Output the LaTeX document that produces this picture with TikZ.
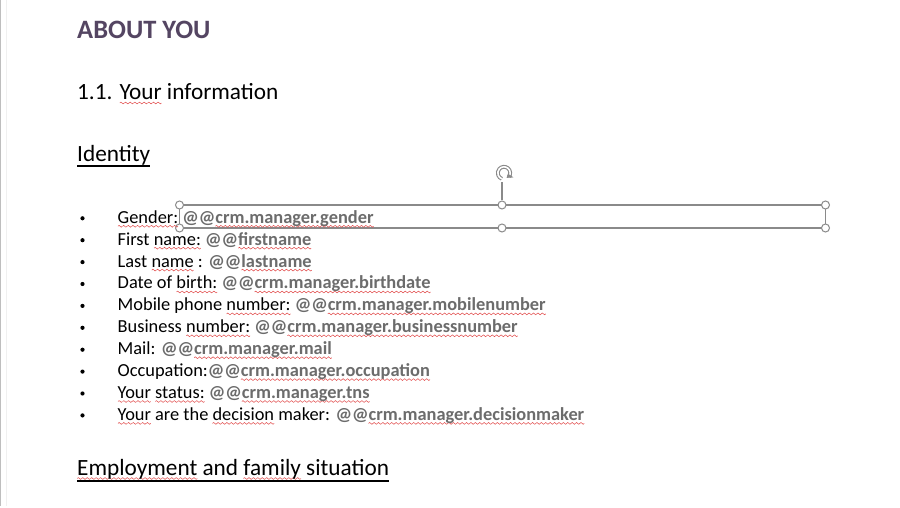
\documentclass[tikz,border=0pt]{standalone}
\usepackage{fontspec}
\setmainfont{Carlito}
\usetikzlibrary{arrows.meta}
\definecolor{headc}{RGB}{84,69,98}
\definecolor{fieldc}{RGB}{108,108,108}
\definecolor{sqred}{RGB}{225,70,70}
\definecolor{selc}{RGB}{138,138,138}
\definecolor{pageedge}{RGB}{190,190,190}
\newsavebox\wavebox
\newbox\sqbox
\newcommand\sq[1]{\leavevmode\setbox\sqbox\hbox{#1}\rlap{\lower4pt\hbox to \wd\sqbox{\xleaders\copy\wavebox\hfil}}\box\sqbox}
\newcommand\fld[1]{{\bfseries\color{fieldc}#1}}
\begin{document}
\sbox\wavebox{\begin{pgfpicture}%
  \pgfsetcolor{sqred}\pgfsetlinewidth{0.5pt}%
  \pgfpathmoveto{\pgfpoint{0pt}{0pt}}%
  \pgfpathlineto{\pgfpoint{1.1pt}{0.9pt}}%
  \pgfpathlineto{\pgfpoint{3.3pt}{-0.9pt}}%
  \pgfpathlineto{\pgfpoint{4.4pt}{0pt}}%
  \pgfusepath{stroke}%
  \pgfresetboundingbox
  \pgfpathrectangle{\pgfpoint{0pt}{-1pt}}{\pgfpoint{4.4pt}{2pt}}%
  \pgfusepath{use as bounding box}%
\end{pgfpicture}}%
\begin{tikzpicture}[x=1bp,y=-1bp,
  body/.style={anchor=base west, inner sep=0pt, font=\fontsize{18.45}{22}\selectfont},
  head/.style={anchor=base west, inner sep=0pt, font=\fontsize{23.35}{28}\selectfont},
  title/.style={anchor=base west, inner sep=0pt, text=headc, font=\fontsize{26.6}{30}\selectfont\bfseries},
  bulletdot/.style={circle, fill=black, inner sep=0pt, minimum size=4.2bp},
  handle/.style={circle, draw=selc, fill=white, line width=1bp, inner sep=0pt, minimum size=8bp},
  selline/.style={draw=selc, line width=1.1bp},
  uline/.style={line width=1.6bp}]
\useasboundingbox (0,0) rectangle (900,508);
\fill[white] (0,0) rectangle (900,508);
\draw[pageedge, line width=1.5bp] (0.75,0) -- (0.75,506);
\draw[black!6, line width=0.8bp] (6,0) -- (6,506);

\node[title] (t) at (77,38.5) {ABOUT YOU};
\node[head] (s) at (77,100) {1.1. \sq{Your} information};
\node[head] (id) at (77,161.5) {Identity};
\draw[uline] ([yshift=-4.5bp]id.base west) -- ([yshift=-4.5bp]id.base east);

% selection frame
\coordinate (fnw) at (179.5,205);
\coordinate (fse) at (825.5,228);
\draw[selline] (fnw) rectangle (fse);
\coordinate (rot) at (504,173);
\node[handle] (hnw) at (179.5,205) {};
\node[handle] (hsw) at (179.5,228) {};
\node[handle] (hn)  at (502,205) {};
\node[handle] (hs)  at (502,228) {};
\node[handle] (hne) at (825.5,205) {};
\node[handle] (hse) at (825.5,228) {};
\draw[selline] (hn) -- (502,182);
\draw[selc, line width=1.1bp, double=white, double distance=1.6bp]
  ([shift={(-40:6.2bp)}]rot) arc[start angle=-40, end angle=250, radius=6.2bp];
\fill[selc] ([shift={(-10:4bp)}]rot) -- ([shift={(-25:10.5bp)}]rot) -- ([shift={(-62:5.5bp)}]rot) -- cycle;

% bullet list
\foreach \k in {0,...,9}{
  \node[bulletdot] (b\k) at (82.5,{223.3+21.9*\k-5}) {};
}
\node[body] (l0) at (117.5,223.3) {\sq{Gender:} \fld{@@\sq{crm.manager.gender}}};
\node[body] (l1) at (117.5,245.2) {First \sq{name:} \fld{@@\sq{firstname}}};
\node[body] (l2) at (117.5,267.1) {Last \sq{name} : \fld{@@\sq{lastname}}};
\node[body] (l3) at (117.5,289.0) {Date of \sq{birth:} \fld{@@\sq{crm.manager.birthdate}}};
\node[body] (l4) at (117.5,310.9) {Mobile phone \sq{number:} \fld{@@\sq{crm.manager.mobilenumber}}};
\node[body] (l5) at (117.5,332.8) {Business \sq{number:} \fld{@@\sq{crm.manager.businessnumber}}};
\node[body] (l6) at (117.5,354.7) {Mail: \fld{@@\sq{crm.manager.mail}}};
\node[body] (l7) at (117.5,376.6) {Occupation:\fld{@@\sq{crm.manager.occupation}}};
\node[body] (l8) at (117.5,398.5) {\sq{Your} \sq{status:} \fld{@@\sq{crm.manager.tns}}};
\node[body] (l9) at (117.5,420.4) {\sq{Your} are the \sq{decision} maker: \fld{@@\sq{crm.manager.decisionmaker}}};

\node[head] (emp) at (77,475.5) {\sq{Employment} and \sq{family} situation};
\draw[uline] ([yshift=-5.5bp]emp.base west) -- ([yshift=-5.5bp]emp.base east);
\end{tikzpicture}
\end{document}
